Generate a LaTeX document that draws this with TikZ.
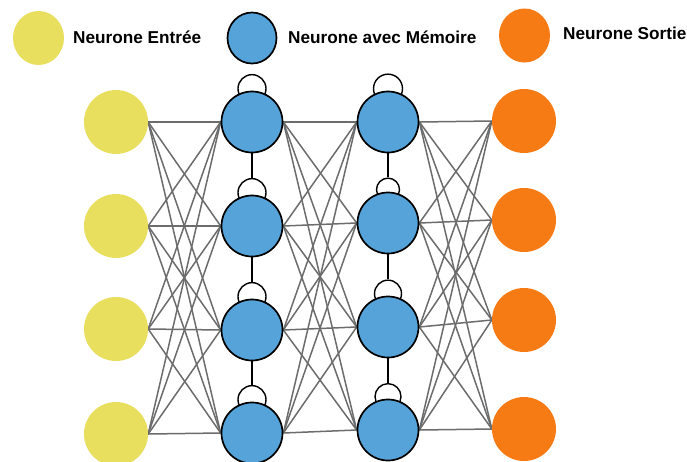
\documentclass[tikz,border=0pt]{standalone}
\usepackage{fontspec}
\setmainfont{Liberation Sans}
\usetikzlibrary{backgrounds,shapes.geometric}
\definecolor{inyellow}{RGB}{232,223,94}
\definecolor{memblue}{RGB}{86,163,217}
\definecolor{outorange}{RGB}{247,123,20}
\definecolor{wiregray}{RGB}{108,108,108}
\begin{document}
\begin{tikzpicture}[x=1pt,y=-1pt,
  inneuron/.style={circle,fill=inyellow,minimum size=64pt,inner sep=0pt},
  outneuron/.style={circle,fill=outorange,minimum size=64pt,inner sep=0pt},
  memneuron/.style={circle,fill=memblue,draw=black,line width=1.7pt,minimum size=61pt,inner sep=0pt},
  selfloop/.style={circle,fill=white,draw=black,line width=1.4pt,inner sep=0pt},
  wire/.style={draw=wiregray,line width=1.5pt},
  chain/.style={draw=black,line width=1.6pt},
  legendtext/.style={anchor=base west,inner sep=0pt,font=\fontsize{17.2}{20}\selectfont\bfseries}]
\useasboundingbox (0,0) rectangle (687,461);
\clip (0,0) rectangle (687,461);

% legend
\node[inneuron,ellipse,minimum width=51pt,minimum height=54pt] (lgin) at (38.5,38) {};
\node[legendtext] (lgintxt) at (73,43.3) {Neurone Entrée};
\node[memneuron,ellipse,minimum width=49pt,minimum height=51pt] (lgmem) at (252,38) {};
\node[legendtext] (lgmemtxt) at (288,43.3) {Neurone avec Mémoire};
\node[outneuron,ellipse,minimum width=51pt,minimum height=54pt] (lgout) at (524.5,35.5) {};
\node[legendtext] (lgouttxt) at (563,39) {Neurone Sortie};

% input layer
\node[inneuron] (i1) at (116,122) {};
\node[inneuron] (i2) at (116,226) {};
\node[inneuron] (i3) at (116,329) {};
\node[inneuron] (i4) at (116,434) {};

% first memory layer
\node[memneuron] (a1) at (252,122) {};
\node[memneuron] (a2) at (252,226) {};
\node[memneuron] (a3) at (252,330) {};
\node[memneuron] (a4) at (252,433) {};

% second memory layer
\node[memneuron] (b1) at (388,122) {};
\node[memneuron] (b2) at (388,223) {};
\node[memneuron] (b3) at (388,327) {};
\node[memneuron] (b4) at (388,430) {};

% output layer
\node[outneuron] (o1) at (524,121) {};
\node[outneuron] (o2) at (524,220) {};
\node[outneuron] (o3) at (524,320) {};
\node[outneuron] (o4) at (524,429) {};

\begin{scope}[on background layer]
  % recurrent self-loops on top of each memory neuron
  \foreach \n/\d in {a1/28,a2/28,a3/28,a4/28,b1/29,b2/23,b3/27,b4/26}
    \node[selfloop,minimum size=\d pt] (L\n) at ([yshift=2pt]\n.north) {};
  % vertical links between stacked memory neurons
  \foreach \u/\v in {a1/a2,a2/a3,a3/a4,b1/b2,b2/b3,b3/b4}
    \draw[chain] (\u.south) -- (L\v.north);
  % fully connected layers
  \foreach \s in {1,...,4}
    \foreach \t in {1,...,4} {
      \draw[wire] (i\s.east) -- (a\t.west);
      \draw[wire] (a\s.east) -- (b\t.west);
      \draw[wire] (b\s.east) -- (o\t.west);
    }
\end{scope}
\end{tikzpicture}
\end{document}
